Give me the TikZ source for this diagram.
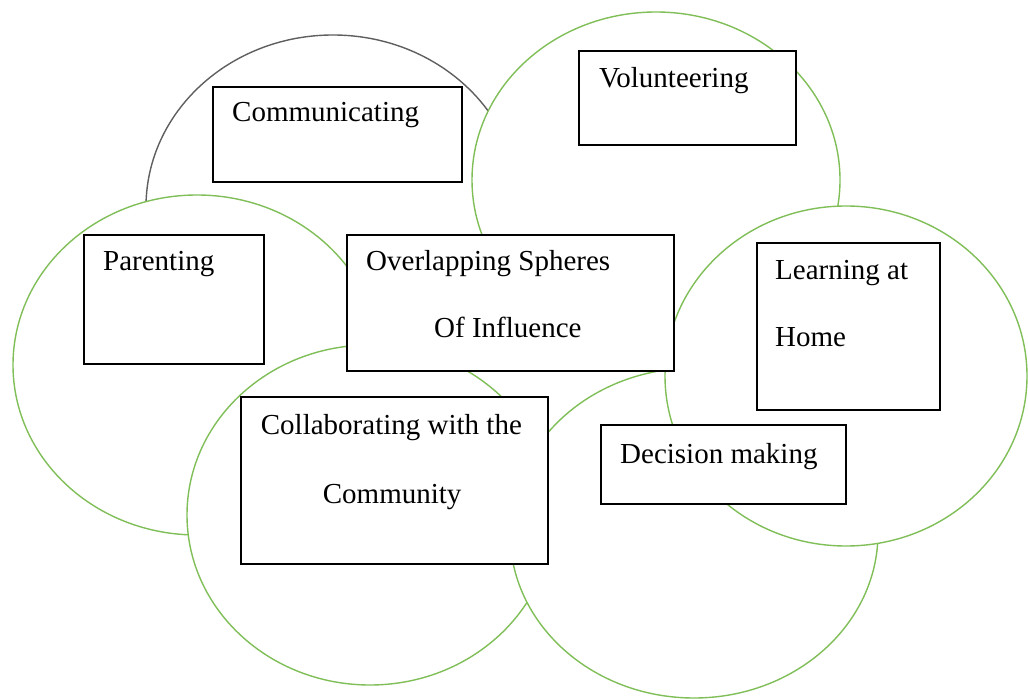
\documentclass[tikz,border=0pt]{standalone}
\usepackage{fontspec}
\setmainfont{Liberation Serif}
\usetikzlibrary{shapes.geometric}
\definecolor{sphgreen}{RGB}{128,190,88}
\definecolor{sphgray}{RGB}{95,95,95}
\begin{document}
\begin{tikzpicture}[x=1pt,y=-1pt,
  sphere/.style={ellipse, draw=sphgreen, fill=white, line width=1.4pt, inner sep=0pt},
  graysphere/.style={sphere, draw=sphgray},
  box/.style={rectangle, draw=black, fill=white, line width=2.2pt, inner sep=0pt, anchor=north west},
  txt/.style={inner sep=0pt, anchor=base west, font=\fontsize{29}{34}\selectfont}]
\useasboundingbox (0,0) rectangle (1028,700);
% spheres
\node[graysphere, minimum width=374, minimum height=344] (sComm) at (333,207) {};
\node[sphere, minimum width=368, minimum height=336] (sVol) at (656,180) {};
\node[sphere, minimum width=368, minimum height=340] (sPar) at (197,365) {};
\node[sphere, minimum width=366, minimum height=340] (sCol) at (370,515) {};
\node[sphere, minimum width=368, minimum height=330] (sDec) at (694,533) {};
\node[sphere, minimum width=362, minimum height=340] (sLrn) at (846,376) {};
% boxes
\node[box, minimum width=249, minimum height=95] (bComm) at (212,86) {};
\node[box, minimum width=217, minimum height=94] (bVol) at (578,50) {};
\node[box, minimum width=180, minimum height=129] (bPar) at (83,234) {};
\node[box, minimum width=327, minimum height=136] (bOvl) at (346,234) {};
\node[box, minimum width=183, minimum height=167] (bLrn) at (756,242) {};
\node[box, minimum width=307, minimum height=167] (bCol) at (240,396) {};
\node[box, minimum width=245, minimum height=79] (bDec) at (600,424) {};
% texts
\node[txt] (tComm) at (232,121.7) {Communicating};
\node[txt] (tVol) at (599,87.3) {Volunteering};
\node[txt] (tPar) at (103,270.7) {Parenting};
\node[txt] (tOvl1) at (366,270.7) {Overlapping Spheres};
\node[txt] (tOvl2) at (434,338) {Of Influence};
\node[txt] (tLrn1) at (775,279.3) {Learning at};
\node[txt] (tLrn2) at (775,346.7) {Home};
\node[txt] (tCol1) at (260.7,435) {Collaborating with the};
\node[txt] (tCol2) at (322.7,503.3) {Community};
\node[txt] (tDec) at (620,463.3) {Decision making};
\end{tikzpicture}
\end{document}
